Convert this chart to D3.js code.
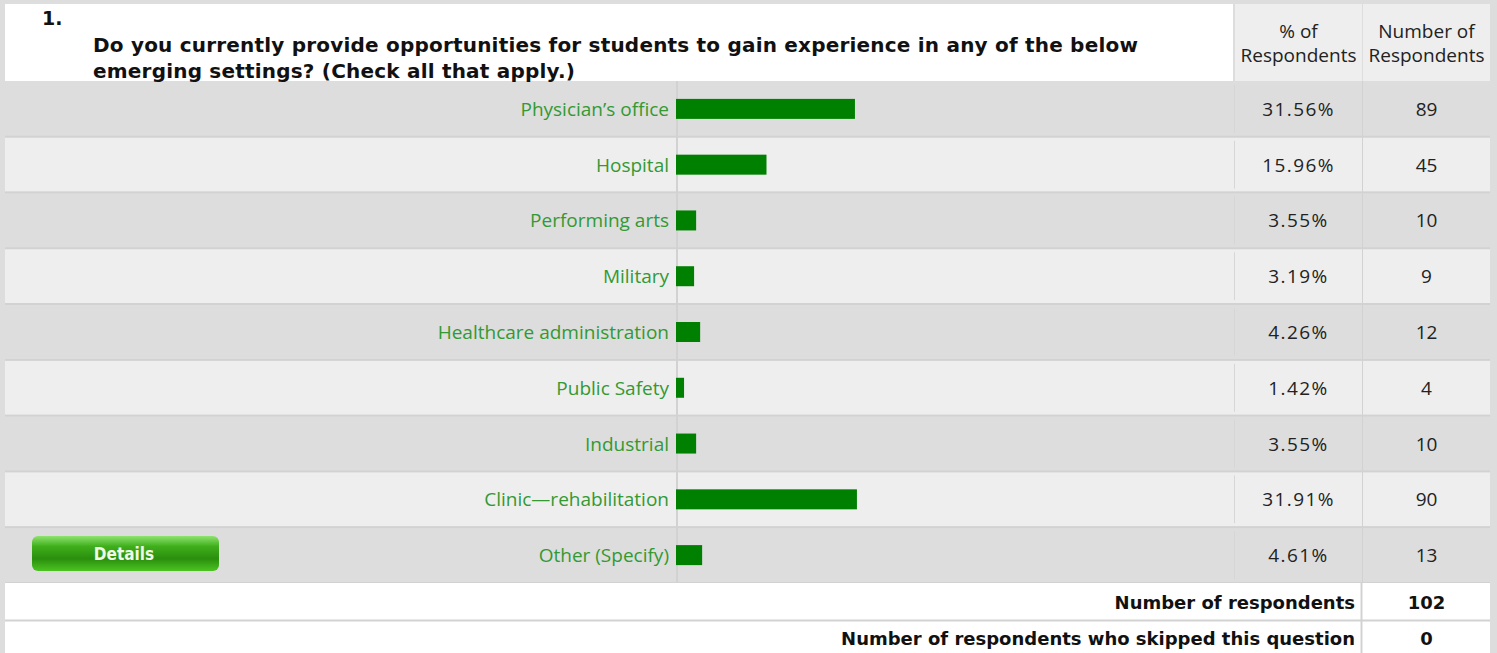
<!DOCTYPE html>
<html>
<head>
<meta charset="utf-8">
<script src="https://cdn.jsdelivr.net/npm/d3@7"></script>
<style>
  body { margin: 0; background: #dddddd; }
  svg { display: block; }
</style>
</head>
<body>
<div id="chart"></div>
<script>
// survey answers
const categories = [
    'Physician\u2019s office',
    'Hospital',
    'Performing arts',
    'Military',
    'Healthcare administration',
    'Public Safety',
    'Industrial',
    'Clinic\u2014rehabilitation',
    'Other (Specify)'
];
const percents = [31.56, 15.96, 3.55, 3.19, 4.26, 1.42, 3.55, 31.91, 4.61];
const counts = [89, 45, 10, 9, 12, 4, 10, 90, 13];
const questionNumber = '1.';
const questionLines = [
    'Do you currently provide opportunities for students to gain experience in any of the below',
    'emerging settings? (Check all that apply.)'
];
const headerPct = ['% of', 'Respondents'];
const headerNum = ['Number of', 'Respondents'];
const summaryLabels = ['Number of respondents', 'Number of respondents who skipped this question'];
const summaryValues = [102, 0];

const W = 1497, H = 653;
const left = 5, right = 1490;
const barX0 = 676;
const colPct = [1235, 1362];
const colNum = [1363, 1490];

const rows = categories.map((c, i) => ({ label: c, pct: percents[i], n: counts[i], i: i }));

const svg = d3.select('#chart').append('svg')
    .attr('width', W)
    .attr('height', H);

svg.append('rect').attr('width', W).attr('height', H).attr('fill', '#dddddd');

const x = d3.scaleLinear().domain([0, 100]).range([barX0, barX0 + 567]);
const y = d3.scaleBand().domain(categories).range([81, 583]);

// header
svg.append('rect').attr('x', left).attr('y', 4).attr('width', 1228).attr('height', 77).attr('fill', '#ffffff');
svg.append('rect').attr('x', colPct[0]).attr('y', 4).attr('width', colPct[1] - colPct[0]).attr('height', 77).attr('fill', '#eeeeee');
svg.append('rect').attr('x', colNum[0]).attr('y', 4).attr('width', colNum[1] - colNum[0]).attr('height', 77).attr('fill', '#eeeeee');

svg.append('text')
    .attr('x', 42).attr('y', 25)
    .style('font', 'bold 19px "DejaVu Sans"')
    .attr('fill', '#111')
    .text(questionNumber);

svg.selectAll('.qline')
    .data(questionLines)
    .enter()
    .append('text')
    .attr('class', 'qline')
    .attr('x', 93)
    .attr('y', (d, i) => 52 + i * 26)
    .style('font', 'bold 20px "DejaVu Sans"')
    .style('letter-spacing', '0.2px')
    .attr('fill', '#111')
    .text(d => d);

const headFont = '19px "Open Sans"';
[[headerPct, colPct], [headerNum, colNum]].forEach(([lines, col]) => {
    lines.forEach((t, i) => {
        svg.append('text')
            .attr('x', (col[0] + col[1]) / 2)
            .attr('y', 38 + i * 24)
            .attr('text-anchor', 'middle')
            .style('font', headFont)
            .attr('fill', '#222')
            .text(t);
    });
});

// rows
const row = svg.selectAll('.row')
    .data(rows)
    .enter()
    .append('g')
    .attr('class', 'row');

row.append('rect')
    .attr('x', left)
    .attr('y', d => y(d.label) + 1)
    .attr('width', right - left)
    .attr('height', y.bandwidth() - 2)
    .attr('fill', d => d.i % 2 ? '#eeeeee' : '#dddddd');

row.append('line')
    .attr('x1', left).attr('x2', right)
    .attr('y1', d => y(d.label) + y.bandwidth())
    .attr('y2', d => y(d.label) + y.bandwidth())
    .attr('stroke', '#d2d2d2')
    .attr('stroke-width', 2);

// vertical guide lines
svg.append('line')
    .attr('x1', barX0 + 1).attr('x2', barX0 + 1)
    .attr('y1', 81).attr('y2', 583)
    .attr('stroke', '#d2d2d2').attr('stroke-width', 2);
svg.append('line')
    .attr('x1', 1362.5).attr('x2', 1362.5)
    .attr('y1', 81).attr('y2', 583)
    .attr('stroke', '#d2d2d2').attr('stroke-width', 1);
row.append('line')
    .attr('x1', 1234.5).attr('x2', 1234.5)
    .attr('y1', d => y(d.label) + 4)
    .attr('y2', d => y(d.label) + y.bandwidth() - 4)
    .attr('stroke', '#d6d6d6').attr('stroke-width', 1);

const marks = svg.append('g').attr('class', 'marks');

marks.selectAll('.label')
    .data(rows)
    .enter()
    .append('text')
    .attr('class', 'label')
    .attr('x', 669)
    .attr('y', d => y(d.label) + y.bandwidth() / 2 + 7)
    .attr('text-anchor', 'end')
    .style('font', '19px "Open Sans"')
    .attr('fill', '#339933')
    .text(d => d.label);

marks.selectAll('.bar')
    .data(rows)
    .enter()
    .append('rect')
    .attr('class', 'bar')
    .attr('x', x(0))
    .attr('y', d => y(d.label) + y.bandwidth() / 2 - 10)
    .attr('width', d => x(d.pct) - x(0))
    .attr('height', 20)
    .attr('fill', '#008000');

marks.selectAll('.pct')
    .data(rows)
    .enter()
    .append('text')
    .attr('class', 'pct')
    .attr('x', (colPct[0] + colPct[1]) / 2)
    .attr('y', d => y(d.label) + y.bandwidth() / 2 + 7)
    .attr('text-anchor', 'middle')
    .style('font', '19px "Open Sans"')
    .style('letter-spacing', '1.4px')
    .attr('fill', '#222')
    .text(d => d.pct.toFixed(2) + '%');

marks.selectAll('.num')
    .data(rows)
    .enter()
    .append('text')
    .attr('class', 'num')
    .attr('x', (colNum[0] + colNum[1]) / 2)
    .attr('y', d => y(d.label) + y.bandwidth() / 2 + 7)
    .attr('text-anchor', 'middle')
    .style('font', '19px "Open Sans"')
    .attr('fill', '#222')
    .text(d => d.n);

// details button
const defs = svg.append('defs');
const grad = defs.append('linearGradient').attr('id', 'btn').attr('x1', 0).attr('x2', 0).attr('y1', 0).attr('y2', 1);
grad.append('stop').attr('offset', '0%').attr('stop-color', '#8fe36e');
grad.append('stop').attr('offset', '30%').attr('stop-color', '#3fae1c');
grad.append('stop').attr('offset', '65%').attr('stop-color', '#2a8f0c');
grad.append('stop').attr('offset', '100%').attr('stop-color', '#4cc322');

svg.append('rect')
    .attr('x', 32).attr('y', 536)
    .attr('width', 187).attr('height', 35)
    .attr('rx', 6)
    .attr('fill', 'url(#btn)');
svg.append('text')
    .attr('x', 124).attr('y', 560)
    .attr('text-anchor', 'middle')
    .style('font', 'bold 17px "DejaVu Sans Condensed"')
    .attr('fill', '#eef8e6')
    .text('Details');

// summary rows
const sumY = [583, 621];
const sumH = [37, 32];
summaryLabels.forEach((t, i) => {
    svg.append('rect')
        .attr('x', left).attr('y', sumY[i])
        .attr('width', right - left).attr('height', sumH[i])
        .attr('fill', '#ffffff');
    svg.append('text')
        .attr('x', 1355).attr('y', sumY[i] + 26 - i * 2)
        .attr('text-anchor', 'end')
        .style('font', 'bold 18px "DejaVu Sans"')
        .attr('fill', '#111')
        .text(t);
    svg.append('text')
        .attr('x', (colNum[0] + colNum[1]) / 2).attr('y', sumY[i] + 26 - i * 2)
        .attr('text-anchor', 'middle')
        .style('font', 'bold 18px "DejaVu Sans"')
        .attr('fill', '#111')
        .text(summaryValues[i]);
});
svg.append('line')
    .attr('x1', left).attr('x2', right)
    .attr('y1', 620.5).attr('y2', 620.5)
    .attr('stroke', '#d2d2d2').attr('stroke-width', 2);
svg.append('line')
    .attr('x1', 1361.5).attr('x2', 1361.5)
    .attr('y1', 583).attr('y2', H)
    .attr('stroke', '#d2d2d2').attr('stroke-width', 2);
</script>
</body>
</html>
